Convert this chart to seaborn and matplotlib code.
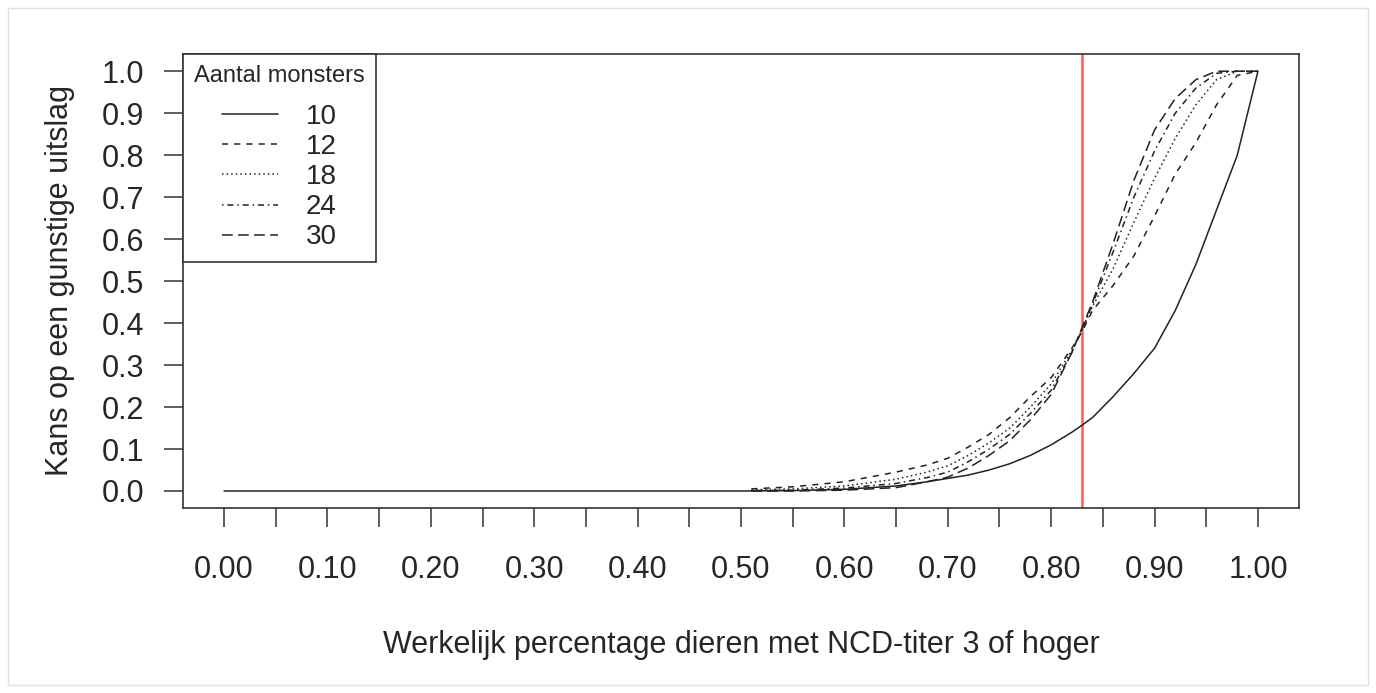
import numpy as np
import pandas as pd
import matplotlib.pyplot as plt
import matplotlib.patches as mpatches
import seaborn as sns

# Data
x_vals = [0.50, 0.55, 0.60, 0.65, 0.68, 0.70, 0.72, 0.74, 0.76, 0.78, 0.80, 0.82,
          0.83, 0.84, 0.86, 0.88, 0.90, 0.92, 0.94, 0.96, 0.98, 1.00]
p_10 = [0.0, 0.001, 0.004, 0.012, 0.022, 0.03, 0.038, 0.05, 0.065, 0.085, 0.11, 0.14,
        0.157, 0.175, 0.225, 0.28, 0.34, 0.43, 0.54, 0.67, 0.80, 1.0]
p_12 = [0.005, 0.01, 0.022, 0.045, 0.062, 0.078, 0.105, 0.135, 0.175, 0.225, 0.27, 0.34,
        0.38, 0.43, 0.49, 0.56, 0.655, 0.755, 0.83, 0.92, 0.99, 1.0]
p_18 = [0.003, 0.005, 0.012, 0.028, 0.045, 0.06, 0.085, 0.115, 0.15, 0.20, 0.255, 0.335,
        0.385, 0.44, 0.53, 0.64, 0.745, 0.84, 0.92, 0.98, 1.0, 1.0]
p_24 = [0.001, 0.002, 0.007, 0.018, 0.032, 0.045, 0.07, 0.10, 0.135, 0.185, 0.24, 0.33,
        0.385, 0.445, 0.57, 0.70, 0.81, 0.90, 0.96, 0.995, 1.0, 1.0]
p_30 = [0.0, 0.0, 0.002, 0.008, 0.022, 0.033, 0.055, 0.085, 0.12, 0.17, 0.23, 0.33,
        0.39, 0.45, 0.59, 0.74, 0.86, 0.935, 0.98, 1.0, 1.0, 1.0]
sample_sizes = ['10', '12', '18', '24', '30']
threshold = 0.83

x_ticks = [i * 0.05 for i in range(21)]
x_ticklabels = ['%.2f' % t if i % 2 == 0 else '' for i, t in enumerate(x_ticks)]
y_ticks = [i * 0.1 for i in range(11)]
y_ticklabels = ['%.1f' % t for t in y_ticks]

rows = []
for n, ys in zip(sample_sizes, [p_10, p_12, p_18, p_24, p_30]):
    xs = list(x_vals)
    yy = list(ys)
    if n == '10':
        xs = [0.0] + xs
        yy = [0.0] + yy
    else:
        xs[0] = 0.51
    for a, b in zip(xs, yy):
        rows.append({'x': a, 'p': b, 'n': n})
df = pd.DataFrame(rows)

sns.set_style('white')
plt.rcParams['font.family'] = ['Liberation Sans', 'DejaVu Sans']

fig = plt.figure(figsize=(13.76, 6.93), dpi=100)
ax = fig.add_axes([183 / 1376, 1 - 508 / 693, (1299 - 183) / 1376, (508 - 54) / 693])

dash_map = {'10': '', '12': (4, 4), '18': (1, 2), '24': (1, 2.5, 4, 2.5), '30': (7, 3.5)}
sns.lineplot(data=df, x='x', y='p', style='n', dashes=dash_map, color='#222222',
             linewidth=1.1, estimator=None, sort=True, ax=ax)

ax.axvline(threshold, color='#ff5c5c', linewidth=1.8, zorder=0)

ax.set_xlim(-0.0397, 1.0397)
ax.set_ylim(-0.0405, 1.041)
ax.set_xticks(x_ticks)
ax.set_xticklabels(x_ticklabels, fontsize=22)
ax.set_yticks(y_ticks)
ax.set_yticklabels(y_ticklabels, fontsize=22)
ax.tick_params(axis='x', direction='out', length=14, width=1.1, color='#333333', pad=20, bottom=True)
ax.tick_params(axis='y', direction='out', length=14, width=1.1, color='#333333', pad=14, left=True)

ax.set_xlabel('Werkelijk percentage dieren met NCD-titer 3 of hoger', fontsize=22, labelpad=32)
ax.set_ylabel('Kans op een gunstige uitslag', fontsize=22, labelpad=19)

for s in ax.spines.values():
    s.set_visible(True)
    s.set_color('#333333')
    s.set_linewidth(1.2)

handles, labels = ax.get_legend_handles_labels()
leg = ax.legend(handles, labels, title='Aantal monsters', loc='upper left',
                bbox_to_anchor=(0, 1), borderaxespad=0, fontsize=20, title_fontsize=17,
                handlelength=2.0, handletextpad=1.0, labelspacing=0.15, borderpad=0.4,
                alignment='center', frameon=True, fancybox=False)
leg._legend_box.sep = 12
leg.get_frame().set_edgecolor('#333333')
leg.get_frame().set_linewidth(1.2)
leg.get_frame().set_alpha(1)
for line in leg.get_lines():
    line.set_linewidth(1.1)

fig.patches.append(mpatches.Rectangle((8 / 1376, 8 / 693), 1 - 16 / 1376, 1 - 16 / 693,
                                      transform=fig.transFigure, fill=False,
                                      edgecolor='#e0e0e0', linewidth=1))

fig.savefig('out.png', dpi=100)
plt.close()
